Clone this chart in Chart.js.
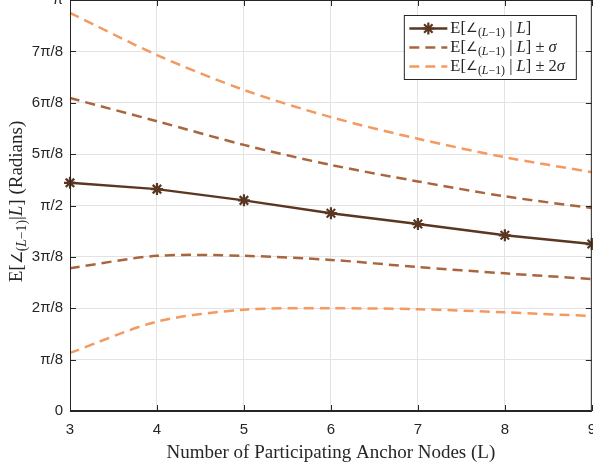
<!DOCTYPE html>
<html>
<head>
<meta charset="utf-8">
<script src="https://cdn.jsdelivr.net/npm/chart.js@4"></script>
<style>
html, body { margin: 0; padding: 0; background: #fff; overflow: hidden; width: 593px; height: 467px; }
/* the reference figure is cropped at the top and right edge */
#wrap { position: absolute; left: 0; top: -16px; width: 606px; height: 483px; }
</style>
</head>
<body>
<div id="wrap"><canvas id="chart"></canvas></div>
<script>
// values in radians
const anchorNodes = ['3', '4', '5', '6', '7', '8', '9'];
const meanAngle   = [1.744, 1.696, 1.610, 1.512, 1.429, 1.343, 1.276];
const plusSigma   = [2.392, 2.215, 2.034, 1.881, 1.755, 1.641, 1.551];
const minusSigma  = [1.092, 1.186, 1.186, 1.155, 1.100, 1.052, 1.009];
const plus2Sigma  = [3.043, 2.721, 2.454, 2.246, 2.081, 1.940, 1.826];
const minus2Sigma = [0.444, 0.683, 0.774, 0.785, 0.778, 0.754, 0.726];

const yTickLabels = ['0', 'π/8', '2π/8', '3π/8', 'π/2', '5π/8', '6π/8', '7π/8', 'π'];
const seriesLabels = ['E[∠(L−1) | L]', 'E[∠(L−1) | L] ± σ', 'E[∠(L−1) | L] ± 2σ'];
const yTitle = 'E[∠(L−1)|L] (Radians)';

const darkBrown = '#5b3620';
const midBrown = '#a9663d';
const lightOrange = '#f4995f';
const axisColor = '#262626';
const serif = '"Liberation Serif", "Times New Roman", serif';

// split text into normal / italic / subscript pieces
function richParts(text) {
	const parts = [];
	text.split(/(\(L−1\)|L|σ|∠)/).forEach(t => {
		if (!t) return;
		if (t === '(L−1)') {
			parts.push({ t: '(', k: 0.72, dy: 0.28 }, { t: 'L', k: 0.72, dy: 0.28, it: 1 }, { t: '−1)', k: 0.72, dy: 0.28 });
		} else if (t === '∠') {
			parts.push({ t: t, k: 0.8, dy: 0.03 });
		} else if (t === 'L' || t === 'σ') {
			parts.push({ t: t, it: 1 });
		} else {
			parts.push({ t: t });
		}
	});
	return parts;
}

function setFont(ctx, p, size) {
	ctx.font = (p.it ? 'italic ' : '') + (size * (p.k || 1)) + 'px ' + serif;
}

function richWidth(ctx, parts, size) {
	let w = 0;
	parts.forEach(p => {
		setFont(ctx, p, size);
		w += ctx.measureText(p.t).width;
	});
	return w;
}

function drawRich(ctx, parts, x, y, size) {
	ctx.textBaseline = 'middle';
	ctx.textAlign = 'left';
	parts.forEach(p => {
		setFont(ctx, p, size);
		ctx.fillText(p.t, x, y + (p.dy || 0) * size);
		x += ctx.measureText(p.t).width;
	});
}

const decorations = {
	id: 'decorations',
	afterDraw(chart) {
		const ctx = chart.ctx;
		const a = chart.chartArea;
		const xs = chart.scales.x;
		const ys = chart.scales.y;
		ctx.save();

		// box and inward ticks
		ctx.strokeStyle = axisColor;
		ctx.lineWidth = 1;
		ctx.strokeRect(a.left + 0.5, a.top + 0.5, a.right - a.left - 1, a.bottom - a.top - 1);
		ctx.beginPath();
		ys.ticks.forEach(t => {
			const py = Math.round(ys.getPixelForValue(t.value)) + 0.5;
			ctx.moveTo(a.left, py); ctx.lineTo(a.left + 6, py);
			ctx.moveTo(a.right, py); ctx.lineTo(a.right - 6, py);
		});
		xs.ticks.forEach((t, i) => {
			const px = Math.round(xs.getPixelForTick(i)) + 0.5;
			ctx.moveTo(px, a.bottom); ctx.lineTo(px, a.bottom - 6);
			ctx.moveTo(px, a.top); ctx.lineTo(px, a.top + 6);
		});
		ctx.stroke();

		// y axis title
		ctx.fillStyle = axisColor;
		ctx.save();
		const tParts = richParts(yTitle);
		const tw = richWidth(ctx, tParts, 19);
		ctx.translate(17, (a.top + a.bottom) / 2 - 4);
		ctx.rotate(-Math.PI / 2);
		drawRich(ctx, tParts, -tw / 2, 0, 19);
		ctx.restore();

		// legend
		const boxW = 172, boxH = 64;
		const bx = a.right - 16 - boxW + 0.5, by = a.top + 15 + 0.5;
		ctx.fillStyle = '#fff';
		ctx.fillRect(bx, by, boxW, boxH);
		ctx.strokeStyle = axisColor;
		ctx.strokeRect(bx, by, boxW, boxH);
		const ds = chart.data.datasets;
		seriesLabels.forEach((label, i) => {
			const d = ds[i];
			const ry = by + 13 + i * 19;
			ctx.strokeStyle = d.borderColor;
			ctx.lineWidth = d.borderWidth;
			ctx.setLineDash(d.borderDash || []);
			ctx.beginPath();
			ctx.moveTo(bx + 5, ry);
			ctx.lineTo(bx + 43, ry);
			ctx.stroke();
			ctx.setLineDash([]);
			if (d.pointRadius) {
				ctx.lineWidth = d.pointBorderWidth;
				Chart.helpers.drawPoint(ctx, { pointStyle: d.pointStyle, radius: d.pointRadius, borderWidth: d.pointBorderWidth, rotation: 0 }, bx + 24, ry);
			}
			ctx.fillStyle = axisColor;
			drawRich(ctx, richParts(label), bx + 46, ry, 16.5);
		});
		ctx.restore();
	}
};

const ctx = document.getElementById('chart').getContext('2d');
new Chart(ctx, {
	type: 'line',
	data: {
		labels: anchorNodes,
		datasets: [
			{
				label: seriesLabels[0],
				data: meanAngle,
				borderColor: darkBrown,
				backgroundColor: darkBrown,
				borderWidth: 2.5,
				pointStyle: 'star',
				pointRadius: 6,
				pointBorderWidth: 2.2,
				pointBorderColor: darkBrown,
				tension: 0
			},
			{
				label: seriesLabels[1],
				data: plusSigma,
				borderColor: midBrown,
				borderWidth: 2.5,
				borderDash: [10, 6],
				pointRadius: 0,
				tension: 0.3
			},
			{
				label: seriesLabels[2],
				data: plus2Sigma,
				borderColor: lightOrange,
				borderWidth: 2.5,
				borderDash: [10, 6],
				pointRadius: 0,
				tension: 0.3
			},
			{
				label: 'minus sigma',
				data: minusSigma,
				borderColor: midBrown,
				borderWidth: 2.5,
				borderDash: [10, 6],
				pointRadius: 0,
				tension: 0.3
			},
			{
				label: 'minus 2 sigma',
				data: minus2Sigma,
				borderColor: lightOrange,
				borderWidth: 2.5,
				borderDash: [10, 6],
				pointRadius: 0,
				tension: 0.3
			}
		]
	},
	options: {
		responsive: true,
		maintainAspectRatio: false,
		animation: false,
		layout: {
			autoPadding: false,
			padding: { left: 0, right: 2, top: 0, bottom: 0 }
		},
		plugins: {
			legend: { display: false },
			tooltip: { enabled: false }
		},
		scales: {
			x: {
				offset: false,
				grid: { color: '#e3e3e3', drawTicks: false },
				border: { color: axisColor },
				ticks: {
					color: axisColor,
					font: { family: '"Liberation Sans", Arial, sans-serif', size: 15 },
					padding: 10,
					maxRotation: 0
				},
				title: {
					display: true,
					text: 'Number of Participating Anchor Nodes (L)',
					color: axisColor,
					font: { family: serif, size: 19 },
					padding: { top: 0, bottom: 3 }
				},
				afterFit: scale => { scale.height = 56; }
			},
			y: {
				min: 0,
				max: Math.PI,
				grid: { color: '#e3e3e3', drawTicks: false },
				border: { color: axisColor },
				afterBuildTicks: scale => {
					scale.ticks = yTickLabels.map((_, k) => ({ value: k * Math.PI / 8 }));
				},
				ticks: {
					color: axisColor,
					font: { family: '"Liberation Sans", Arial, sans-serif', size: 15 },
					padding: 7,
					callback: (v, i) => yTickLabels[i]
				},
				afterFit: scale => { scale.width = 70; }
			}
		}
	},
	plugins: [decorations]
});
</script>
</body>
</html>
